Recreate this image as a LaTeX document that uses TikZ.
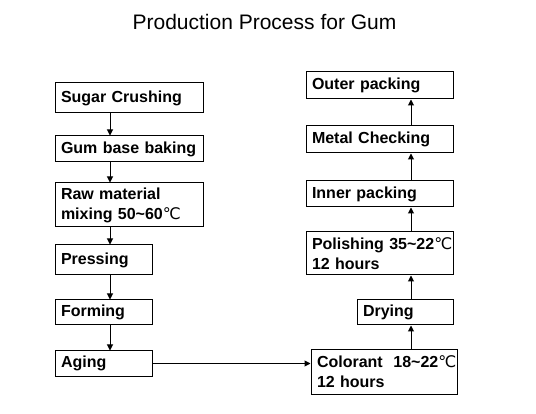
\documentclass[tikz,border=0pt]{standalone}
\usepackage{fontspec}
\setmainfont{Liberation Sans}
\newfontfamily\degfont{DejaVu Sans}
\usepackage{tikz}
\usetikzlibrary{arrows.meta}
\newcommand{\dC}{{\degfont\mdseries ℃}}

\begin{document}
\begin{tikzpicture}[x=1pt, y=-1pt, line width=1pt, >={Triangle[length=6pt,width=6pt]},
  stage/.style={draw, rectangle, align=left, inner xsep=6pt, inner ysep=0pt,
    font=\fontsize{16}{20}\selectfont\bfseries}]
  \useasboundingbox (0,0) rectangle (536,414);
  \node[anchor=base, font=\fontsize{21}{24}\selectfont] (title) at (264.5,30) {Production Process for Gum};
  \coordinate (lx) at (110,0);
  \coordinate (rx) at (411,0);
  \node[stage, text width=136pt, minimum height=30pt] (sugar) at (129,98) {Sugar Crushing};
  \node[stage, text width=136pt, minimum height=26pt] (baking) at (129,149) {Gum base baking};
  \node[stage, text width=136pt, minimum height=44pt] (raw) at (129,205) {Raw material\\mixing 50\textasciitilde 60\dC};
  \node[stage, text width=85pt, minimum height=30pt] (press) at (103.5,260) {Pressing};
  \node[stage, text width=85pt, minimum height=25pt] (forming) at (103.5,312.5) {Forming};
  \node[stage, text width=85pt, minimum height=25pt] (aging) at (103.5,363.5) {Aging};
  \node[stage, text width=135pt, minimum height=27pt] (outer) at (379.5,85.5) {Outer packing};
  \node[stage, text width=135pt, minimum height=27pt] (metal) at (379.5,139.5) {Metal Checking};
  \node[stage, text width=135pt, minimum height=26pt] (inner) at (379.5,194) {Inner packing};
  \node[stage, text width=135pt, minimum height=43pt] (polish) at (379.5,253.5) {\mbox{Polishing 35\textasciitilde 22\dC}\\12 hours};
  \node[stage, text width=84pt, minimum height=25pt] (drying) at (405,312.5) {Drying};
  \node[stage, text width=134pt, minimum height=44pt] (colorant) at (384,372) {\mbox{Colorant\ \ 18\textasciitilde 22\dC}\\12 hours};
  \draw[->] (sugar.south -| lx) -- (baking.north -| lx);
  \draw[->] (baking.south -| lx) -- (raw.north -| lx);
  \draw[->] (raw.south -| lx) -- (press.north -| lx);
  \draw[->] (press.south -| lx) -- (forming.north -| lx);
  \draw[->] (forming.south -| lx) -- (aging.north -| lx);
  \draw[->] (aging.east) -- (aging.east -| colorant.west);
  \draw[->] (colorant.north -| rx) -- (drying.south -| rx);
  \draw[->] (drying.north -| rx) -- (polish.south -| rx);
  \draw[->] (polish.north -| rx) -- (inner.south -| rx);
  \draw[->] (inner.north -| rx) -- (metal.south -| rx);
  \draw[->] (metal.north -| rx) -- (outer.south -| rx);
\end{tikzpicture}
\end{document}
